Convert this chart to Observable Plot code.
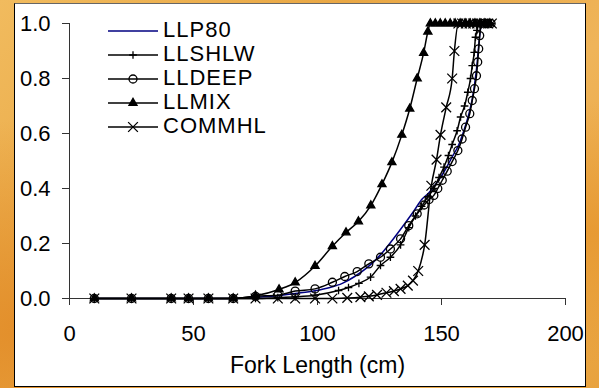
<!DOCTYPE html>
<html><head><meta charset="utf-8">
<script src="https://cdn.jsdelivr.net/npm/d3@7"></script>
<script src="https://cdn.jsdelivr.net/npm/@observablehq/plot@0.6"></script>
<style>
body{margin:0;}
#wrap{position:relative;width:599px;height:388px;overflow:hidden;
 background:
  radial-gradient(ellipse at 5% 85%, rgba(226,140,40,0.9) 0%, rgba(226,140,40,0) 45%),
  radial-gradient(ellipse at 98% 60%, rgba(230,150,45,0.8) 0%, rgba(230,150,45,0) 40%),
  linear-gradient(135deg,#F1BB5E 0%,#E9A744 35%,#EFB459 65%,#E8A23E 100%);
 font-family:"Liberation Sans",Arial,sans-serif;}
#panel{position:absolute;left:14px;top:3px;width:570px;height:382px;background:#fff;border:1.5px solid #000;border-top-color:#666;}
#chart{position:absolute;left:0;top:0;}
#legend{position:absolute;left:0;top:0;}
</style></head>
<body><div id="wrap"><div id="panel"></div><div id="chart"></div><svg id="legend" width="599" height="388"></svg></div>
<script>
// ---- data ----
const seriesNames = ["LLP80","LLSHLW","LLDEEP","LLMIX","COMMHL"];

const llp80FL = [10,25,41,48,56,66,75,84,91,99,105,110,115,120,125,130,135,139,142,145,148,151,154,157,159,161,162.5,163.5,164.3,165,165.6,166.2,170];
const llp80P  = [0,0,0,0,0,0,0.004,0.01,0.018,0.028,0.04,0.055,0.08,0.112,0.155,0.21,0.27,0.32,0.36,0.385,0.42,0.46,0.51,0.56,0.61,0.67,0.73,0.79,0.85,0.92,0.97,1,1];

const llshlwFL = [10,25,41,48,56,66,75,84,91,99,108.5,112.5,116.7,121.4,125.4,129.4,133.5,136.8,139.5,142,144.5,146.9,149,151,152.8,154.3,156.3,157.7,159.3,160.6,161.7,162.4,163.2,163.7,164.3,165,166,168,170];
const llshlwP  = [0,0,0,0,0,0,0,0.003,0.006,0.012,0.029,0.04,0.055,0.078,0.12,0.15,0.195,0.258,0.3,0.335,0.37,0.4,0.44,0.478,0.52,0.56,0.61,0.66,0.7,0.75,0.8,0.847,0.895,0.95,0.975,1,1,1,1];

const lldeepFL = [10,25,41,48,56,66,75,84,91,99,106,111,116,120.7,125.4,129.4,133.5,136.8,140.2,143,145,146.9,148.5,150.3,152.3,154.3,156.6,158.3,159.7,161.4,162.4,163.3,164.1,164.6,165,165.4,166,168,170];
const lldeepP  = [0,0,0,0,0,0,0.008,0.012,0.027,0.035,0.059,0.08,0.098,0.126,0.15,0.18,0.217,0.265,0.308,0.34,0.36,0.375,0.4,0.43,0.463,0.498,0.538,0.58,0.623,0.672,0.72,0.763,0.81,0.86,0.908,0.956,1,1,1];

const llmixFL = [10,25,41,48,56,66,75,84.5,91,99,106,111.5,116.5,121.5,126,130,134,137.2,140.2,142.8,144.5,145.5,147.5,149.5,151.5,153.5,155.5,157.5,159.5,161.5,163.5,165.5,167.5,169.5];
const llmixP  = [0,0,0,0,0,0,0.01,0.033,0.058,0.118,0.19,0.24,0.28,0.338,0.415,0.495,0.595,0.69,0.8,0.893,0.97,1,1,1,1,1,1,1,1,1,1,1,1,1];

const commhlFL = [10,25,41,48,56,66,75,84,91,99,106,112,117.3,120.7,124,127.8,130.8,133.5,136.4,138.5,140.6,143.2,145.9,148,149.6,151.9,154.3,155.2,156.8,158.3,159.8,161.3,162.8,164.3,165.8,167.3,168.8,170.3];
const commhlP  = [0,0,0,0,0,0,0,0,0,0,0,0.002,0.005,0.008,0.013,0.021,0.027,0.035,0.047,0.065,0.1,0.195,0.41,0.505,0.595,0.695,0.8,0.9,1,1,1,1,1,1,1,1,1,1];

const xTicks = [0,50,100,150,200];
const yTicks = [0,0.2,0.4,0.6,0.8,1.0];
const xLabel = "Fork Length (cm)";

// styles per series
const styles = {
  LLP80:  {color:"#000080", symbol:null},
  LLSHLW: {color:"#000", symbol:"plus", r:2.6, fill:"none"},
  LLDEEP: {color:"#000", symbol:"circle", r:4, fill:"none"},
  LLMIX:  {color:"#000", symbol:"triangle", r:3, fill:"#000"},
  COMMHL: {color:"#000", symbol:"times", r:4.5, fill:"none"}
};

const build = (name, fl, p) => fl.map((v,i)=>({series:name, fl:v, p:p[i]}));
const data = {
  LLP80: build("LLP80", llp80FL, llp80P),
  LLSHLW: build("LLSHLW", llshlwFL, llshlwP),
  LLDEEP: build("LLDEEP", lldeepFL, lldeepP),
  LLMIX: build("LLMIX", llmixFL, llmixP),
  COMMHL: build("COMMHL", commhlFL, commhlP)
};

const marks = [
  Plot.ruleY([0], {stroke:"#333", strokeWidth:1}),
  Plot.ruleX([0], {stroke:"#333", strokeWidth:1}),
  Plot.axisY({ticks:yTicks, tickFormat:d3.format(".1f"), tickSize:7, tickPadding:12, label:null, stroke:"#333", fill:"#000"}),
  Plot.axisX({ticks:xTicks, tickFormat:d3.format("d"), tickSize:7, tickPadding:20, label:null, stroke:"#333", fill:"#000"}),
  Plot.text([xLabel], {frameAnchor:"bottom", dy:74, fill:"#000", fontSize:23, style:"letter-spacing:0.3px"})
];
for (const name of seriesNames) {
  const s = styles[name];
  marks.push(Plot.line(data[name], {x:"fl", y:"p", stroke:s.color, strokeWidth:1.5, curve:"monotone-x"}));
  if (s.symbol) {
    marks.push(Plot.dot(data[name], {x:"fl", y:"p", symbol:()=>s.symbol, r:s.r, stroke:"#000", strokeWidth:1.3, fill:s.fill}));
  }
}

const chart = Plot.plot({
  width:599, height:388,
  marginLeft:69, marginRight:34, marginTop:23, marginBottom:90,
  x:{domain:[0,200]},
  y:{domain:[0,1]},
  symbol:{type:"identity"},
  style:{background:"transparent", fontFamily:"Liberation Sans, Arial, sans-serif", fontSize:"22px", color:"#000", overflow:"visible"},
  marks
});
document.getElementById("chart").appendChild(chart);

// legend
const lg = d3.select("#legend");
const symMap = {plus:d3.symbolPlus, circle:d3.symbolCircle, triangle:d3.symbolTriangle, times:d3.symbolTimes};
seriesNames.forEach((name,i)=>{
  const s = styles[name];
  const y = 31 + 24*i;
  lg.append("line").attr("x1",108).attr("x2",158).attr("y1",y).attr("y2",y)
    .attr("stroke",s.color).attr("stroke-width",1.5);
  if (s.symbol) {
    lg.append("path").attr("transform",`translate(133,${y})`)
      .attr("d", d3.symbol(symMap[s.symbol], s.r*s.r*Math.PI)())
      .attr("stroke","#000").attr("stroke-width",1.3).attr("fill", s.fill === "none" ? "none" : s.fill);
  }
  lg.append("text").attr("x",163).attr("y",y+6).text(name)
    .attr("font-family","Liberation Sans, Arial, sans-serif").attr("font-size","22px")
    .attr("letter-spacing","1px").attr("fill","#000");
});
</script>
</body></html>
